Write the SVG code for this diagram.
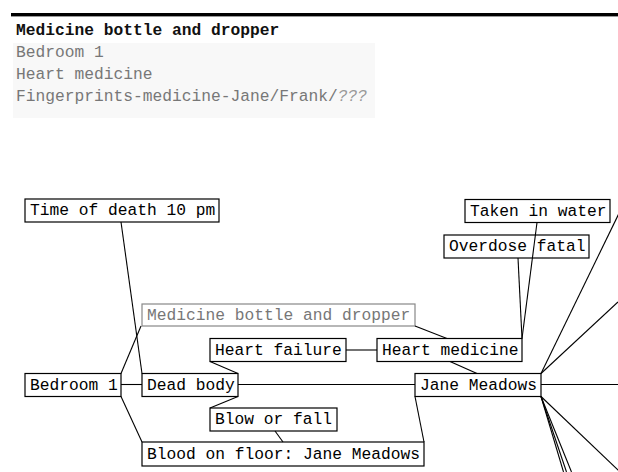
<svg xmlns="http://www.w3.org/2000/svg" width="618" height="472" viewBox="0 0 618 472">
<style>
text{font-family:"Liberation Mono","DejaVu Sans Mono",monospace;font-size:16.25px;fill:#000}
.box{fill:#fff;stroke:#000;stroke-width:1.2}
.gbox{fill:#fff;stroke:#888;stroke-width:1.2}
.gt{fill:#777}
#edges line{stroke:#000;stroke-width:1.1}
</style>
<rect x="0" y="0" width="618" height="472" fill="#fff"/>
<rect x="11" y="13" width="607" height="3.4" fill="#000"/>
<rect x="13" y="43" width="362" height="75" fill="#f8f8f8"/>
<text x="16" y="35" style="font-weight:bold;fill:#111">Medicine bottle and dropper</text>
<text class="gt" x="16" y="57">Bedroom 1</text>
<text class="gt" x="16" y="79">Heart medicine</text>
<text class="gt" x="16" y="101">Fingerprints-medicine-Jane/Frank/<tspan style="font-style:italic;fill:#999">???</tspan></text>
<g id="n-time"><rect class="box" x="25" y="199" width="194" height="23"/><text x="30" y="215">Time of death 10 pm</text></g>
<g id="n-water"><rect class="box" x="465" y="199.5" width="145" height="23"/><text x="470" y="215.5">Taken in water</text></g>
<g id="n-overdose"><rect class="box" x="444" y="235" width="145" height="23"/><text x="449" y="251">Overdose fatal</text></g>
<g id="n-bottle"><rect class="gbox" x="142" y="304" width="273" height="22"/><text class="gt" x="147" y="320">Medicine bottle and dropper</text></g>
<g id="n-hfail"><rect class="box" x="210" y="338.5" width="136" height="23"/><text x="215" y="354.5">Heart failure</text></g>
<g id="n-hmed"><rect class="box" x="377" y="338.5" width="145" height="23"/><text x="382" y="354.5">Heart medicine</text></g>
<g id="n-bedroom"><rect class="box" x="25" y="373.5" width="96" height="23"/><text x="30" y="389.5">Bedroom 1</text></g>
<g id="n-body"><rect class="box" x="142" y="373.5" width="96" height="23"/><text x="147" y="389.5">Dead body</text></g>
<g id="n-jane"><rect class="box" x="415" y="373.5" width="126" height="23"/><text x="420" y="389.5">Jane Meadows</text></g>
<g id="n-blow"><rect class="box" x="210" y="408" width="127" height="23"/><text x="215" y="424">Blow or fall</text></g>
<g id="n-blood"><rect class="box" x="142" y="442" width="282" height="24"/><text x="147" y="458.5">Blood on floor: Jane Meadows</text></g>
<g id="edges">
<line x1="121" y1="222" x2="142" y2="373.5"/>
<line x1="141" y1="326" x2="121" y2="373.5"/>
<line x1="415" y1="326" x2="447" y2="338.5"/>
<line x1="210" y1="361.5" x2="238" y2="373.5"/>
<line x1="346" y1="350" x2="377" y2="350"/>
<line x1="121" y1="384.5" x2="142" y2="384.5"/>
<line x1="238" y1="384.5" x2="415" y2="384.5"/>
<line x1="121" y1="396.5" x2="142" y2="442"/>
<line x1="238" y1="396.5" x2="210" y2="408"/>
<line x1="275" y1="431" x2="283" y2="442"/>
<line x1="415" y1="396.5" x2="424" y2="442"/>
<line x1="450" y1="361.5" x2="477" y2="373.5"/>
<line x1="518" y1="258" x2="522" y2="338.5"/>
<line x1="537" y1="222.5" x2="522" y2="338.5"/>
<line x1="541" y1="373.5" x2="625" y2="201"/>
<line x1="541" y1="373.5" x2="618" y2="302"/>
<line x1="541" y1="384.5" x2="618" y2="384.5"/>
<line x1="541" y1="396.5" x2="620" y2="472"/>
<line x1="541" y1="396.5" x2="563.5" y2="472"/>
<line x1="541" y1="396.5" x2="566.5" y2="472"/>
<line x1="541" y1="396.5" x2="571.5" y2="472"/>
</g>
</svg>
